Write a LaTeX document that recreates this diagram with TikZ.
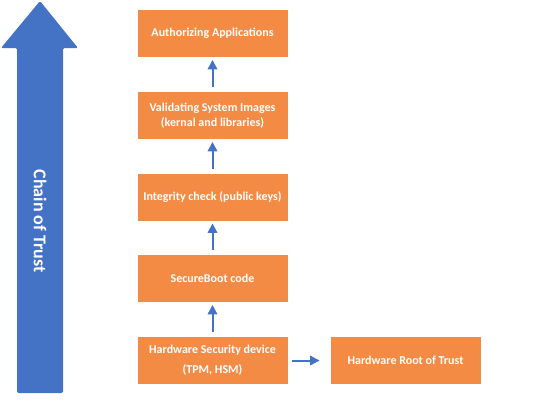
\documentclass[tikz,border=0pt]{standalone}
\usepackage{fontspec}
\setmainfont{Carlito}
\usetikzlibrary{arrows.meta}
\definecolor{boxorange}{HTML}{F38B45}
\definecolor{chainblue}{HTML}{4472C4}

\begin{document}
\begin{tikzpicture}[x=0.75pt,y=-0.75pt,
    stage/.style={fill=boxorange,text=white,font=\bfseries\fontsize{9}{11.25}\selectfont,
      minimum width=112.5pt,minimum height=35.25pt,inner sep=0pt,align=center},
    link/.style={chainblue,line width=1.5pt,-{Triangle[length=7pt,width=7pt]}}]
    \useasboundingbox (0,0) rectangle (548,405);
    \fill[chainblue,rounded corners=1pt] (40,1) -- (78,48) -- (63,48) -- (63,393)
      -- (17,393) -- (17,48) -- (1,48) -- cycle;
    \node[rotate=-90,text=white,font=\bfseries\fontsize{13.5}{16}\selectfont] (chain) at (40,221) {Chain of Trust};
    \node[stage] (apps) at (212.5,33.5) {Authorizing Applications};
    \node[stage] (images) at (212.5,115.5) {Validating System Images\\(kernal and libraries)};
    \node[stage] (integrity) at (212.5,197) {Integrity check (public keys)};
    \node[stage] (boot) at (212.5,278.5) {SecureBoot code};
    \node[stage] (hsd) at (212.5,360.5) {Hardware Security device\\[4pt](TPM, HSM)};
    \node[stage] (root) at (405.5,360.5) {Hardware Root of Trust};
    \draw [link,shorten <=3.5pt,shorten >=2pt] (hsd) -- (boot);
    \draw [link,shorten <=3.5pt,shorten >=2pt] (boot) -- (integrity);
    \draw [link,shorten <=3.5pt,shorten >=2pt] (integrity) -- (images);
    \draw [link,shorten <=3.5pt,shorten >=2pt] (images) -- (apps);
    \draw [link,shorten <=3.5pt,shorten >=8pt] (hsd) -- (root);
  \end{tikzpicture}
\end{document}
